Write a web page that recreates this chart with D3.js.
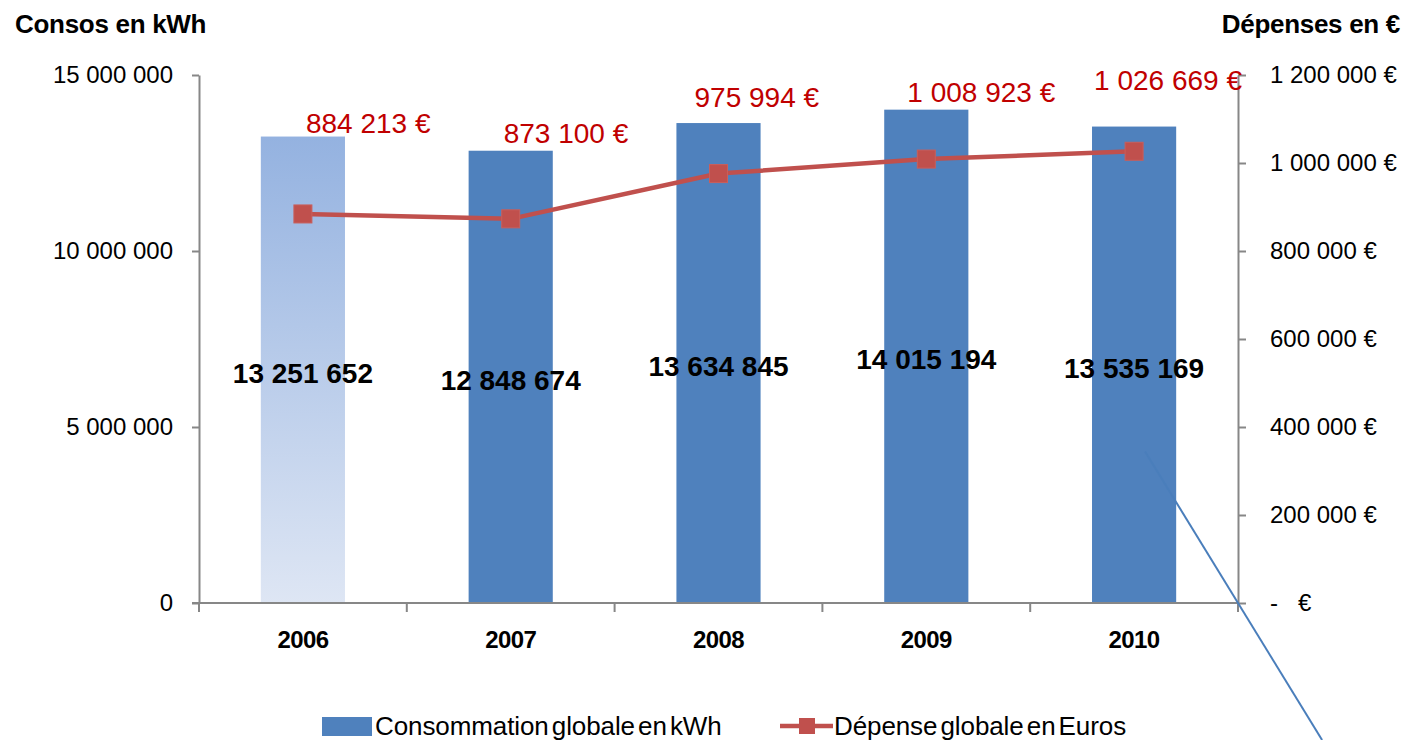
<!DOCTYPE html>
<html>
<head>
<meta charset="utf-8">
<script src="https://cdn.jsdelivr.net/npm/d3@7/dist/d3.min.js"></script>
<style>
  html, body { margin: 0; padding: 0; background: #ffffff; }
  svg { display: block; font-family: "Liberation Sans", Arial, sans-serif; }
</style>
</head>
<body>
<svg id="chart" width="1405" height="740"></svg>
<script>
// ---------- DATA ----------
const years = ["2006", "2007", "2008", "2009", "2010"];
const consumptionKWh = [13251652, 12848674, 13634845, 14015194, 13535169];
const spendingEuros = [884213, 873100, 975994, 1008923, 1026669];
const leftTicks = [0, 5000000, 10000000, 15000000];
const rightTicks = [0, 200000, 400000, 600000, 800000, 1000000, 1200000];
const seriesNames = ["Consommation globale en kWh", "Dépense globale en Euros"];
const axisTitles = ["Consos en kWh", "Dépenses en €"];
// manual nudges of the euro labels (dx, dy from marker), as placed in the original
const euroLabelOffsets = [[3, -81], [-7, -76], [-24, -67], [-19, -57], [-40, -61]];

// ---------- LAYOUT ----------
const svg = d3.select("#chart");
const plot = { left: 199, right: 1238, top: 75, bottom: 603 };
const axisColor = "#878787";
const barColor = "#4f81bd";
const lineColor = "#c0504d";
const labelRed = "#c00000";

const x = d3.scaleBand().domain(years).range([plot.left, plot.right])
  .paddingInner(0.595).paddingOuter(0.2975);
const yL = d3.scaleLinear().domain([0, 15000000]).range([plot.bottom, plot.top]);
const yR = d3.scaleLinear().domain([0, 1200000]).range([plot.bottom, plot.top]);

const fmt = d3.formatLocale({ decimal: ",", thousands: "\u00a0", grouping: [3], currency: ["", "€"] }).format(",d");

// gradient for first bar
const defs = svg.append("defs");
const grad = defs.append("linearGradient").attr("id", "g2006")
  .attr("x1", 0).attr("y1", 0).attr("x2", 0).attr("y2", 1);
grad.append("stop").attr("offset", "0%").attr("stop-color", "#94b2e0");
grad.append("stop").attr("offset", "100%").attr("stop-color", "#dee6f4");

// ---------- BARS ----------
svg.append("g").selectAll("rect")
  .data(years)
  .join("rect")
  .attr("x", d => x(d))
  .attr("width", x.bandwidth())
  .attr("y", (d, i) => yL(consumptionKWh[i]))
  .attr("height", (d, i) => yL(0) - yL(consumptionKWh[i]))
  .attr("fill", (d, i) => i === 0 ? "url(#g2006)" : barColor);

// ---------- AXES ----------
const leftAxis = svg.append("g")
  .attr("transform", `translate(${plot.left},0)`)
  .call(d3.axisLeft(yL).tickValues(leftTicks).tickSize(7).tickSizeOuter(0).tickPadding(19)
    .tickFormat(d => fmt(d)));
leftAxis.selectAll("path, line").attr("stroke", axisColor).attr("stroke-width", 2);
leftAxis.selectAll("text").attr("font-size", 24).attr("fill", "#000")
  .attr("font-family", "'Liberation Sans', Arial, sans-serif");

const rightAxis = svg.append("g")
  .attr("transform", `translate(${plot.right},0)`)
  .call(d3.axisRight(yR).tickValues(rightTicks).tickSize(8).tickSizeOuter(0).tickPadding(24)
    .tickFormat(d => d === 0 ? "-\u00a0\u00a0\u00a0€" : fmt(d) + " €"));
rightAxis.selectAll("path, line").attr("stroke", axisColor).attr("stroke-width", 2);
rightAxis.selectAll("text").attr("font-size", 24).attr("fill", "#000")
  .attr("font-family", "'Liberation Sans', Arial, sans-serif");

// bottom axis line + boundary ticks
const bottom = svg.append("g");
bottom.append("line")
  .attr("x1", plot.left - 7).attr("x2", plot.right)
  .attr("y1", yL(0)).attr("y2", yL(0))
  .attr("stroke", axisColor).attr("stroke-width", 2);
const boundaries = years.map(d => x(d) - x.step() * x.paddingOuter()).concat([plot.right]);
bottom.selectAll("line.b").data(boundaries).join("line")
  .attr("class", "b")
  .attr("x1", d => d).attr("x2", d => d)
  .attr("y1", yL(0)).attr("y2", yL(0) + 9)
  .attr("stroke", axisColor).attr("stroke-width", 2);
bottom.selectAll("text").data(years).join("text")
  .attr("x", d => x(d) + x.bandwidth() / 2)
  .attr("y", yL(0) + 45)
  .attr("text-anchor", "middle")
  .attr("font-size", 24).attr("font-weight", "bold").attr("letter-spacing", -0.6)
  .text(d => d);

// ---------- LINE SERIES ----------
const cx = d => x(d) + x.bandwidth() / 2;
const line = d3.line().x((d, i) => cx(years[i])).y(d => yR(d));
svg.append("path")
  .datum(spendingEuros)
  .attr("d", line)
  .attr("fill", "none")
  .attr("stroke", lineColor)
  .attr("stroke-width", 4.5)
  .attr("stroke-linejoin", "round");
svg.append("g").selectAll("rect")
  .data(spendingEuros)
  .join("rect")
  .attr("x", (d, i) => cx(years[i]) - 9)
  .attr("y", d => yR(d) - 9)
  .attr("width", 18).attr("height", 18)
  .attr("fill", lineColor)
  .attr("stroke", "#c95e5b").attr("stroke-width", 1);

// ---------- DATA LABELS ----------
svg.append("g").selectAll("text")
  .data(consumptionKWh)
  .join("text")
  .attr("x", (d, i) => cx(years[i]))
  .attr("y", d => (yL(0) + yL(d)) / 2 + 13)
  .attr("text-anchor", "middle")
  .attr("font-size", 28).attr("font-weight", "bold").attr("fill", "#000")
  .text(d => fmt(d));

svg.append("g").selectAll("text")
  .data(spendingEuros)
  .join("text")
  .attr("x", (d, i) => cx(years[i]) + euroLabelOffsets[i][0])
  .attr("y", (d, i) => yR(d) + euroLabelOffsets[i][1])
  .attr("font-size", 28).attr("fill", labelRed)
  .text(d => fmt(d) + " €");

// ---------- AXIS TITLES ----------
svg.append("text").attr("x", 15).attr("y", 33)
  .attr("font-size", 26).attr("font-weight", "bold").attr("letter-spacing", -0.3).text(axisTitles[0]);
svg.append("text").attr("x", 1400).attr("y", 33).attr("text-anchor", "end")
  .attr("font-size", 26).attr("font-weight", "bold").attr("letter-spacing", -0.3).text(axisTitles[1]);

// ---------- LEGEND ----------
const lg = svg.append("g");
lg.append("rect").attr("x", 322).attr("y", 717).attr("width", 50).attr("height", 19).attr("fill", barColor);
lg.append("text").attr("x", 375).attr("y", 735)
  .attr("font-size", 26).attr("word-spacing", -4).attr("letter-spacing", -0.1)
  .text(seriesNames[0]);
lg.append("line").attr("x1", 780).attr("x2", 833).attr("y1", 726).attr("y2", 726)
  .attr("stroke", lineColor).attr("stroke-width", 4.5);
lg.append("rect").attr("x", 799).attr("y", 718).attr("width", 16).attr("height", 16).attr("fill", lineColor);
lg.append("text").attr("x", 834).attr("y", 735)
  .attr("font-size", 26).attr("word-spacing", -4).attr("letter-spacing", -0.1)
  .text(seriesNames[1]);

// ---------- STRAY CONNECTOR LINE (annotation anchored to 2010 bar) ----------
const ax0 = cx("2010") + 11, ay0 = yL(4300000);
const ax1 = plot.right, ay1 = yL(0);
const slope = (ay1 - ay0) / (ax1 - ax0);
const endY = 740;
const endX = ax0 + (endY - ay0) / slope;
svg.append("line")
  .attr("x1", ax0).attr("y1", ay0).attr("x2", endX).attr("y2", endY)
  .attr("stroke", "#4a7ebb").attr("stroke-width", 2);
</script>
</body>
</html>
